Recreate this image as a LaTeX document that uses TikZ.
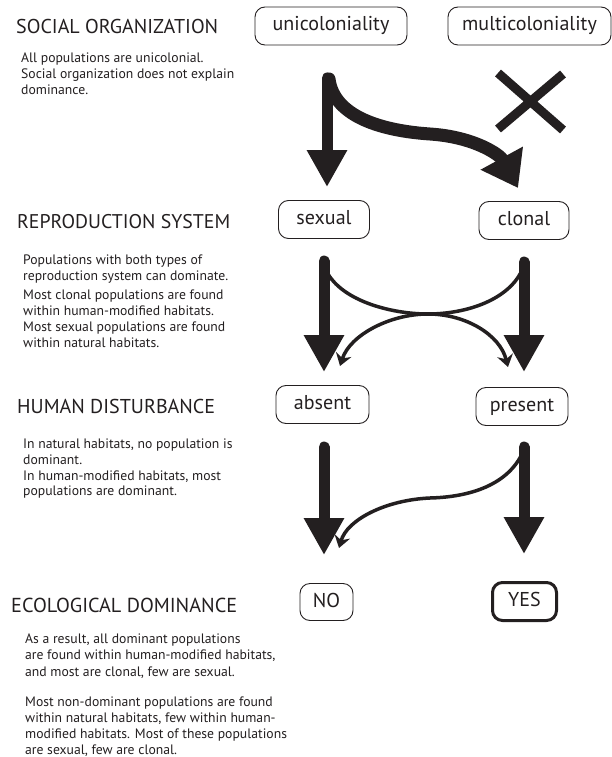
\documentclass[tikz,border=0pt]{standalone}
\usepackage{fontspec}
\setmainfont{PT Sans}
\newfontfamily\calfont{PT Sans}
\usetikzlibrary{arrows.meta}
\definecolor{ink}{HTML}{231F20}
\newlength\calw
\newcommand\calsize[3]{%
  \setbox0=\hbox{\calfont\fontsize{10}{12}\selectfont #2}%
  \calw=\wd0
  \pgfmathsetmacro#1{10*#3/\calw}}
\AtBeginDocument{%
\calsize\szsoc{SOCIAL ORGANIZATION}{202}%
\calsize\szrep{REPRODUCTION SYSTEM}{213}%
\calsize\szhum{HUMAN DISTURBANCE}{198}%
\calsize\szeco{ECOLOGICAL DOMINANCE}{226}%
\calsize\bodya{Social organization does not explain}{208}%
\calsize\bodyb{modified habitats. Most of these populations}{268}%
\pgfmathsetmacro\bodysize{(\bodya+\bodyb)/2}%
\calsize\boxa{unicoloniality}{119}%
\calsize\boxb{multicoloniality}{132}%
\pgfmathsetmacro\boxsize{(\boxa+\boxb)/2}%
}
\begin{document}
\begin{tikzpicture}[x=1pt,y=-1pt,
  title/.style={anchor=base west, text=ink, inner sep=0pt},
  body/.style={anchor=base west, font=\fontsize{\bodysize}{16}\selectfont, text=ink, inner sep=0pt},
  box/.style={draw=ink, line width=0.9pt, rounded corners=10pt, font=\fontsize{\boxsize}{24}\selectfont, text=ink, inner sep=0pt, text height=14pt, text depth=4pt},
  bigarrow/.style={draw=ink, line width=11pt, line cap=round, -{Triangle[width=38pt,length=37pt]}},
  curvearrow/.style={draw=ink, line width=13pt, line cap=round, -{Triangle[width=46pt,length=34pt]}},
  thinarrow/.style={draw=ink, line width=3.5pt, -{Stealth[length=12pt,width=16pt,inset=4pt]}},
]
\useasboundingbox (0,0) rectangle (612,757);

% titles
\node[title, font=\fontsize{\szsoc}{24}\selectfont] (tsoc) at (16,34) {SOCIAL ORGANIZATION};
\node[title, font=\fontsize{\szrep}{24}\selectfont] (trep) at (17,228) {REPRODUCTION SYSTEM};
\node[title, font=\fontsize{\szhum}{24}\selectfont] (thum) at (17,413) {HUMAN DISTURBANCE};
\node[title, font=\fontsize{\szeco}{24}\selectfont] (teco) at (11,612) {ECOLOGICAL DOMINANCE};

% body texts
\foreach \t [count=\i] in {{All populations are unicolonial.},{Social organization does not explain},{dominance.}}
  \node[body] (soc\i) at (21,47+16*\i) {\t};
\foreach \t [count=\i] in {{Populations with both types of},{reproduction system can dominate.}}
  \node[body] (repa\i) at (23,247.5+16.5*\i) {\t};
\foreach \t [count=\i] in {{Most clonal populations are found},{within human-modified habitats.},{Most sexual populations are found},{within natural habitats.}}
  \node[body] (repb\i) at (23,283+16*\i) {\t};
\foreach \t [count=\i] in {{In natural habitats, no population is},{dominant.},{In human-modified habitats, most},{populations are dominant.}}
  \node[body] (hum\i) at (23,433+15.7*\i) {\t};
\foreach \t [count=\i] in {{As a result, all dominant populations},{are found within human-modified habitats,},{and most are clonal, few are sexual.}}
  \node[body] (ecoa\i) at (25,626.5+16.5*\i) {\t};
\foreach \t [count=\i] in {{Most non-dominant populations are found},{within natural habitats, few within human-},{modified habitats. Most of these populations},{are sexual, few are clonal.}}
  \node[body] (ecob\i) at (25,690+16*\i) {\t};

% boxes
\node[box, minimum width=152pt, minimum height=38pt] (uni) at (331,26) {unicoloniality};
\node[box, minimum width=163pt, minimum height=38pt] (multi) at (529.5,26) {multicoloniality};
\node[box, minimum width=91pt, minimum height=38pt] (sex) at (324,219.5) {sexual};
\node[box, minimum width=90pt, minimum height=38pt] (clo) at (524,220.5) {clonal};
\node[box, minimum width=93pt, minimum height=38pt] (abs) at (322.5,404.5) {absent};
\node[box, minimum width=92pt, minimum height=38pt] (pre) at (522,406.5) {present};
\node[box, minimum width=53pt, minimum height=37pt] (no) at (326.5,602) {NO};
\node[box, line width=3pt, minimum width=64pt, minimum height=38pt] (yes) at (524.5,601.5) {YES};

% top arrows
\coordinate (uA) at (327,78);
\coordinate (uB) at (327,187);
\coordinate (uC) at (329,79);
\coordinate (uM) at (430,134);
\coordinate (uT) at (518,188);
\draw[bigarrow] (uA) -- (uB);
\draw[curvearrow] (uC) .. controls (334,118) and (385,131) .. (uM) .. controls (475,137) and (500,155) .. (uT);

% cross
\coordinate (x1) at (498,73);
\coordinate (x2) at (563,130);
\coordinate (x3) at (498,129);
\coordinate (x4) at (563,74);
\draw[draw=ink, line width=9pt] (x1) -- (x2) (x3) -- (x4);

% middle arrows
\coordinate (sA) at (324,261);
\coordinate (sB) at (324,372);
\coordinate (cA) at (524,262);
\coordinate (cB) at (524,372);
\coordinate (mid) at (428,314);
\coordinate (sS) at (325,268);
\coordinate (cS) at (523,268);
\coordinate (sT) at (508,367);
\coordinate (cT) at (340,366);
\draw[thinarrow] (sS) .. controls (338,300) and (390,314) .. (mid) .. controls (466,314) and (500,335) .. (sT);
\draw[thinarrow] (cS) .. controls (510,300) and (466,314) .. (mid) .. controls (390,314) and (350,335) .. (cT);
\draw[bigarrow] (sA) -- (sB);
\draw[bigarrow] (cA) -- (cB);

% bottom arrows
\coordinate (aA) at (324,447);
\coordinate (aB) at (324,555);
\coordinate (pA) at (524,447);
\coordinate (pB) at (524,554);
\coordinate (pS) at (523,452);
\coordinate (pM) at (430,498);
\coordinate (pT) at (339,548);
\draw[thinarrow] (pS) .. controls (508,485) and (470,497) .. (pM) .. controls (385,500) and (347,520) .. (pT);
\draw[bigarrow] (aA) -- (aB);
\draw[bigarrow] (pA) -- (pB);
\end{tikzpicture}
\end{document}
